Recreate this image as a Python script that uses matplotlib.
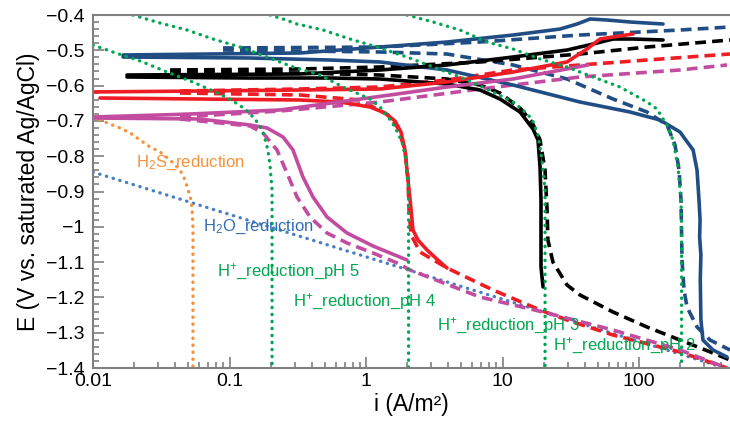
import numpy as np
import matplotlib
matplotlib.use("Agg")
import matplotlib.pyplot as plt
from matplotlib.ticker import MultipleLocator, FuncFormatter, LogLocator

plt.rcParams['font.family'] = ['Liberation Sans', 'DejaVu Sans']
plt.rcParams['mathtext.fontset'] = 'custom'
plt.rcParams['mathtext.rm'] = 'Liberation Sans'
plt.rcParams['mathtext.it'] = 'Liberation Sans:italic'

# ---- data: i in A/m^2, E in V vs Ag/AgCl ----
# theoretical lines
h2s_i = [0.01, 0.01125, 0.0133, 0.0158, 0.0187, 0.0221, 0.0262, 0.031, 0.0367, 0.0434,
         0.0472, 0.0497, 0.0523, 0.0532, 0.054, 0.054]
h2s_E = [-0.690, -0.697, -0.709, -0.720, -0.734, -0.754, -0.774, -0.788, -0.811, -0.839,
         -0.867, -0.895, -0.924, -0.952, -1.0, -1.4]
h2o_i = [0.01, 1.0, 100.0, 470.0]
h2o_E = [-0.845, -1.085, -1.325, -1.405]

ph5_i = [0.01, 0.0140, 0.0221, 0.0348, 0.0540, 0.0852, 0.1061, 0.1299, 0.1538, 0.173,
         0.182, 0.191, 0.198, 0.205, 0.205]
ph5_E = [-0.485, -0.505, -0.530, -0.5615, -0.590, -0.624, -0.6436, -0.6663, -0.6946, -0.7258,
         -0.7513, -0.7824, -0.825, -0.896, -1.4]
ph4_i = [0.0196, 0.031, 0.0488, 0.0757, 0.1194, 0.188, 0.292, 0.460, 0.679, 1.07, 1.267,
         1.449, 1.63, 1.836, 1.963, 2.05, 2.05]
ph4_E = [-0.400, -0.4227, -0.4425, -0.468, -0.4907, -0.519, -0.5473, -0.570, -0.604, -0.638,
         -0.6606, -0.689, -0.7173, -0.7598, -0.8108, -0.896, -1.4]
ph3_i = [0.198, 0.2466, 0.3123, 0.4842, 0.7637, 1.204, 1.995, 3.097, 4.883, 7.69, 11.94,
         14.13, 16.44, 18.2, 19.47, 20.5, 20.5]
ph3_E = [-0.400, -0.4113, -0.4255, -0.4425, -0.468, -0.4907, -0.519, -0.5473, -0.5756, -0.6096,
         -0.6465, -0.6691, -0.6946, -0.740, -0.8108, -0.896, -1.4]
ph2_i = [1.995, 3.097, 4.883, 7.69, 11.94, 18.83, 29.7, 46.0, 72.6, 114.5, 135.6, 150.0,
         160.4, 177.4, 193.1, 203.1, 205.0, 205.0]
ph2_E = [-0.400, -0.4198, -0.4425, -0.4765, -0.4963, -0.5246, -0.5473, -0.5756, -0.604,
         -0.6465, -0.6663, -0.6946, -0.7116, -0.7541, -0.8306, -0.9241, -1.0, -1.4]

# pH 2 (blue)
blue_an_i = [0.0166, 0.328, 1.267, 3.92, 11.94, 26.4, 35.2, 43.8, 58.3, 85.9, 150.0]
blue_an_E = [-0.5133, -0.5076, -0.4907, -0.4765, -0.4567, -0.4397, -0.4255, -0.4113, -0.4142,
             -0.4198, -0.4255]
blue_ca_i = [0.0166, 0.1413, 0.545, 1.267, 3.92, 11.94, 36.97, 85.9, 142.6, 199.5, 249.0,
             266.0, 275.0, 280.0, 278.0, 284.0, 281.0, 284.0, 294.0, 348.0, 441.0]
blue_ca_E = [-0.519, -0.5218, -0.5275, -0.5331, -0.5558, -0.5983, -0.6465, -0.6748, -0.6975,
             -0.7314, -0.7824, -0.8391, -0.9241, -0.98, -1.03, -1.08, -1.15, -1.264, -1.3207,
             -1.349, -1.3688]
blue_mod_an_i = [0.0896, 1.267, 6.84, 36.97, 199.5, 464.0]
blue_mod_an_E = [-0.4935, -0.4907, -0.4765, -0.4567, -0.4425, -0.434]
blue_mod_ca_i = [0.0896, 0.328, 1.267, 3.92, 11.94, 29.7, 64.5, 114.5, 160.4, 183.5, 196.4,
                 203.1, 206.5, 213.6, 224.7, 266.0, 331.0, 464.0]
blue_mod_ca_E = [-0.4992, -0.502, -0.5048, -0.5105, -0.5416, -0.5813, -0.638, -0.6748, -0.7116,
                 -0.7683, -0.8391, -0.9241, -1.094, -1.179, -1.2272, -1.2839, -1.3207, -1.349]

# pH 3 (black)
blk_an_i = [0.01775, 0.328, 1.267, 3.92, 11.94, 29.7, 46.0, 64.5, 90.4, 150.0]
blk_an_E = [-0.570, -0.5671, -0.5558, -0.5416, -0.519, -0.4992, -0.4822, -0.468, -0.468,
            -0.4708]
blk_ca_i = [0.01775, 0.1413, 0.545, 1.267, 3.92, 6.84, 9.59, 13.43, 16.73, 18.2, 18.83, 19.14,
            19.14, 19.81]
blk_ca_E = [-0.5756, -0.5785, -0.5785, -0.5813, -0.5955, -0.6125, -0.638, -0.6748, -0.723,
            -0.7541, -0.8306, -0.9241, -1.1139, -1.1705]
blk_mod_an_i = [0.0367, 0.328, 1.267, 6.84, 36.97, 114.5, 464.0]
blk_mod_an_E = [-0.5558, -0.553, -0.5473, -0.5331, -0.5105, -0.4907, -0.4708]
blk_mod_ca_i = [0.0367, 0.328, 1.267, 3.92, 6.84, 9.59, 13.43, 16.44, 18.83, 20.48, 21.2,
                21.5, 23.4, 29.7, 36.97, 64.5, 114.5, 199.5, 348.0, 464.0]
blk_mod_ca_E = [-0.5615, -0.5643, -0.570, -0.5813, -0.5983, -0.621, -0.6635, -0.7031, -0.7541,
                -0.8391, -0.9524, -1.0374, -1.0997, -1.1649, -1.1932, -1.2414, -1.2839,
                -1.3207, -1.3575, -1.3773]

# pH 4 (red)
red_an_i = [0.01, 0.0608, 0.328, 1.267, 3.92, 11.94, 29.7, 41.6, 51.8, 64.5, 90.4]
red_an_E = [-0.618, -0.6153, -0.6125, -0.6096, -0.5898, -0.5615, -0.5331, -0.4963, -0.468,
            -0.4623, -0.4538]
red_ca_i = [0.01125, 0.0608, 0.328, 0.645, 1.07, 1.377, 1.63, 1.804, 1.93, 2.031, 2.14, 2.208,
            2.40, 2.80, 3.484, 3.92]
red_ca_E = [-0.6351, -0.638, -0.6408, -0.6465, -0.6606, -0.6776, -0.7003, -0.7314, -0.7824,
            -0.8674, -0.9524, -1.009, -1.0374, -1.0657, -1.0997, -1.1167]
red_mod_an_i = [0.0434, 0.328, 1.267, 3.92, 11.94, 36.97, 114.5, 464.0]
red_mod_an_E = [-0.6153, -0.6096, -0.604, -0.5841, -0.5558, -0.5416, -0.5275, -0.5105]
red_mod_ca_i = [0.0434, 0.328, 0.9036, 1.449, 1.714, 1.93, 2.031, 2.065, 2.14, 2.487, 3.92,
                8.51, 18.83, 29.7, 64.5, 199.5, 441.0]
red_mod_ca_E = [-0.621, -0.6266, -0.6408, -0.6833, -0.720, -0.7824, -0.8674, -0.9524, -1.0232,
                -1.0714, -1.1167, -1.179, -1.2357, -1.264, -1.3065, -1.3547, -1.40]

# pH 5 (magenta)
mag_an_i = [0.01, 0.0514, 0.2344, 1.50, 3.92, 11.94, 42.3]
mag_an_E = [-0.689, -0.6805, -0.6691, -0.6266, -0.604, -0.5813, -0.5416]
mag_ca_i = [0.01, 0.0608, 0.1413, 0.1883, 0.2466, 0.2918, 0.345, 0.409, 0.518, 0.726, 1.125,
            1.995]
mag_ca_E = [-0.6918, -0.6946, -0.7116, -0.720, -0.7456, -0.7824, -0.8589, -0.9156, -0.9722,
            -1.0176, -1.0544, -1.094]
mag_mod_an_i = [0.0434, 0.2344, 1.267, 6.84, 36.97, 199.5, 441.0]
mag_mod_an_E = [-0.689, -0.672, -0.6465, -0.6096, -0.5756, -0.5558, -0.5416]
mag_mod_ca_i = [0.0434, 0.1413, 0.176, 0.2228, 0.2636, 0.3123, 0.3889, 0.518, 0.726, 1.125,
                1.687, 2.1, 6.84, 21.2, 64.5, 199.5, 441.0]
mag_mod_ca_E = [-0.6946, -0.7144, -0.7343, -0.7824, -0.8476, -0.9156, -0.9722, -1.0176,
                -1.0459, -1.0742, -1.1025, -1.1224, -1.1989, -1.2442, -1.2924, -1.349, -1.40]

# colours
c_blue = '#214d85'
c_black = '#000000'
c_red = '#ee1c25'
c_mag = '#c24da0'
c_green = '#00a651'
c_orange = '#f7923a'
c_lblue = '#4a7fc1'

dotted = (0, (0.1, 2.0))
dashed = (0, (3.0, 1.7))

fig = plt.figure(figsize=(7.3, 4.23), dpi=100)
ax = fig.add_axes([93 / 730, 1 - 368 / 423, 637 / 730, 353 / 423])
ax.set_xscale('log')

ax.plot(h2o_i, h2o_E, color=c_lblue, lw=2.4, ls=dotted, dash_capstyle='round')
ax.plot(h2s_i, h2s_E, color=c_orange, lw=2.4, ls=dotted, dash_capstyle='round')

# model curves (dashed)
for xi, ye, c in [(blue_mod_an_i, blue_mod_an_E, c_blue), (blue_mod_ca_i, blue_mod_ca_E, c_blue),
                  (blk_mod_an_i, blk_mod_an_E, c_black), (blk_mod_ca_i, blk_mod_ca_E, c_black),
                  (red_mod_an_i, red_mod_an_E, c_red), (red_mod_ca_i, red_mod_ca_E, c_red),
                  (mag_mod_an_i, mag_mod_an_E, c_mag), (mag_mod_ca_i, mag_mod_ca_E, c_mag)]:
    ax.plot(xi, ye, color=c, lw=2.6, ls=dashed)

# measured curves (solid)
for xi, ye, c in [(blue_an_i, blue_an_E, c_blue), (blue_ca_i, blue_ca_E, c_blue),
                  (blk_an_i, blk_an_E, c_black), (blk_ca_i, blk_ca_E, c_black),
                  (red_an_i, red_an_E, c_red), (red_ca_i, red_ca_E, c_red),
                  (mag_an_i, mag_an_E, c_mag), (mag_ca_i, mag_ca_E, c_mag)]:
    ax.plot(xi, ye, color=c, lw=2.6, solid_capstyle='round')

# H+ reduction lines on top
for xi, ye in [(ph5_i, ph5_E), (ph4_i, ph4_E), (ph3_i, ph3_E), (ph2_i, ph2_E)]:
    ax.plot(xi, ye, color=c_green, lw=2.4, ls=dotted, dash_capstyle='round')

fs = 12
ax.text(0.0206, -0.819, r'H$_2$S_reduction', color=c_orange, fontsize=fs, va='center')
ax.text(0.064, -1.0, r'H$_2$O_reduction', color='#2f6db5', fontsize=fs, va='center')
ax.text(0.081, -1.128, r'H$^{+}$_reduction_pH 5', color=c_green, fontsize=fs, va='center')
ax.text(0.292, -1.213, r'H$^{+}$_reduction_pH 4', color=c_green, fontsize=fs, va='center')
ax.text(3.31, -1.281, r'H$^{+}$_reduction_pH 3', color=c_green, fontsize=fs, va='center')
ax.text(23.4, -1.338, r'H$^{+}$_reduction_pH 2', color=c_green, fontsize=fs, va='center')

ax.set_xlim(0.01, 464)
ax.set_ylim(-1.4, -0.4)
ax.yaxis.set_major_locator(MultipleLocator(0.1))
ax.yaxis.set_minor_locator(MultipleLocator(0.02))
ax.yaxis.set_major_formatter(FuncFormatter(lambda v, p: ('%g' % round(v, 2)).replace('-', '\u2212')))
ax.xaxis.set_major_locator(LogLocator(base=10))
ax.xaxis.set_minor_locator(LogLocator(base=10, subs=np.arange(2, 10)))
ax.xaxis.set_major_formatter(FuncFormatter(lambda v, p: '%g' % v))

for s in ['left', 'bottom', 'top']:
    ax.spines[s].set_color('#808080')
    ax.spines[s].set_linewidth(1.5)
ax.spines['right'].set_visible(False)
ax.tick_params(which='both', direction='in', color='#808080', labelsize=14, width=1.2)
ax.tick_params(which='major', length=8)
ax.tick_params(which='minor', length=4)
ax.tick_params(axis='y', pad=6)

ax.set_xlabel('i (A/m²)', fontsize=16.5, labelpad=2)
ax.set_ylabel('E (V vs. saturated Ag/AgCl)', fontsize=16.5, labelpad=4)

fig.savefig('out.png', dpi=100)
